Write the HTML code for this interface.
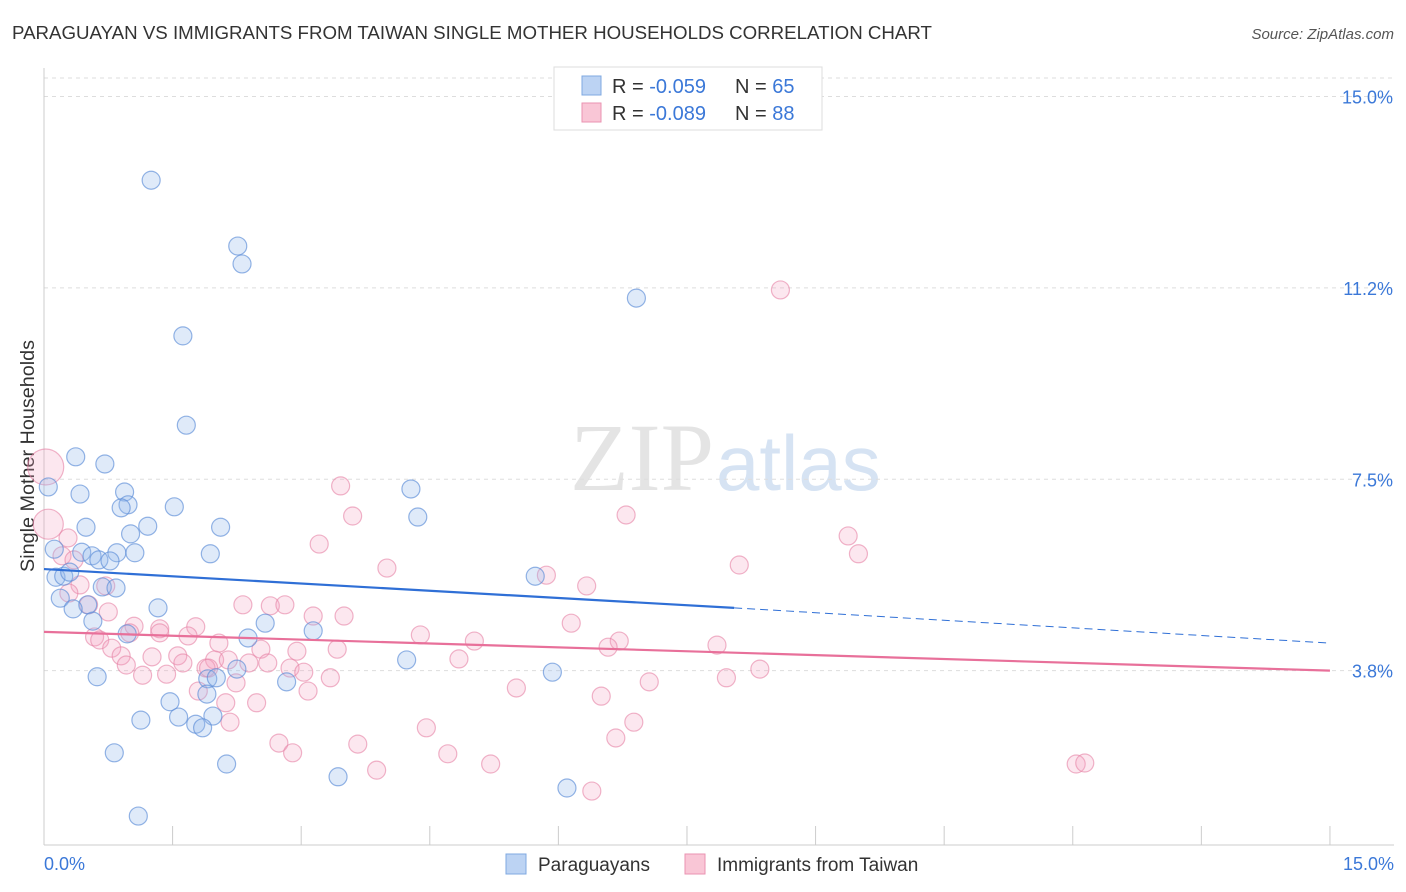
<!DOCTYPE html>
<html><head><meta charset="utf-8"><style>
body{margin:0;background:#fff;font-family:"Liberation Sans",sans-serif}
#wrap{position:relative;width:1406px;height:892px;overflow:hidden}
</style></head><body>
<div id="wrap">
<svg id="chart" width="1406" height="892" xmlns="http://www.w3.org/2000/svg">
<text x="12" y="39" font-size="18.7" fill="#333">PARAGUAYAN VS IMMIGRANTS FROM TAIWAN SINGLE MOTHER HOUSEHOLDS CORRELATION CHART</text>
<text x="1394" y="39" font-size="15" fill="#555" font-style="italic" text-anchor="end">Source: ZipAtlas.com</text>
<text x="714" y="490" font-size="96" fill="#e4e4e4" text-anchor="end" font-family="Liberation Serif">ZIP</text>
<text x="716" y="490" font-size="78" fill="#d6e3f3">atlas</text>
<text transform="translate(34,456) rotate(-90)" font-size="19.8" fill="#333" text-anchor="middle">Single Mother Households</text>
<g id="grid"></g><g id="ticks"></g><g id="pts"></g><g id="trend"></g>
<g>
<rect x="554" y="67" width="268" height="63" fill="#fff" stroke="#ddd"/>
<rect x="582" y="76" width="19" height="19" fill="#bcd3f3" stroke="#7fa8e0"/>
<rect x="582" y="103" width="19" height="19" fill="#f9c6d6" stroke="#ea93b1"/>
<text x="612" y="93" font-size="20" fill="#333">R = <tspan fill="#3b78d8">-0.059</tspan></text>
<text x="735" y="93" font-size="20" fill="#333">N = <tspan fill="#3b78d8">65</tspan></text>
<text x="612" y="120" font-size="20" fill="#333">R = <tspan fill="#3b78d8">-0.089</tspan></text>
<text x="735" y="120" font-size="20" fill="#333">N = <tspan fill="#3b78d8">88</tspan></text>
</g>
<g>
<rect x="506" y="854" width="20" height="20" fill="#bcd3f3" stroke="#7fa8e0"/>
<text x="538" y="871" font-size="19" fill="#333">Paraguayans</text>
<rect x="685" y="854" width="20" height="20" fill="#f9c6d6" stroke="#ea93b1"/>
<text x="717" y="871" font-size="19" fill="#333">Immigrants from Taiwan</text>
</g>
</svg></div>
<script>
const yTicks=[15,11.25,7.5,3.75];
const yTickLabels=["15.0%","11.2%","7.5%","3.8%"];
const xTickLabels=["0.0%","15.0%"];
const blueX=[1.25,2.26,2.31,1.62,6.91,1.66,0.37,0.71,0.05,0.42,0.94,0.98,0.90,1.52,4.28,4.36,0.49,1.21,2.06,1.01,0.12,0.44,0.56,0.85,1.06,1.94,0.64,0.77,0.14,0.23,0.30,5.73,0.19,0.68,0.84,0.51,0.34,1.33,0.57,2.58,0.97,2.38,3.14,4.23,2.25,5.93,0.62,1.91,2.01,2.83,1.47,1.90,1.13,1.57,1.97,1.77,1.85,0.82,2.13,3.43,6.10,1.10];
const blueY=[13.36,12.07,11.72,10.31,11.05,8.56,7.94,7.80,7.35,7.21,7.25,7.00,6.94,6.96,7.31,6.76,6.56,6.58,6.56,6.43,6.13,6.07,6.00,6.06,6.06,6.04,5.92,5.90,5.58,5.60,5.68,5.60,5.17,5.39,5.37,5.04,4.96,4.98,4.72,4.68,4.47,4.39,4.53,3.96,3.78,3.72,3.63,3.59,3.61,3.53,3.14,3.29,2.78,2.84,2.86,2.70,2.63,2.14,1.92,1.67,1.45,0.90];
const pinkX=[8.59,0.02,0.05,3.46,3.60,6.79,3.21,9.38,9.50,8.11,4.00,5.86,6.33,0.28,0.21,0.35,0.42,0.29,0.72,0.52,0.75,2.32,2.64,2.81,3.14,3.50,1.05,1.35,1.77,0.59,1.00,0.65,1.35,1.68,2.04,4.39,5.02,6.15,6.71,6.58,7.85,0.79,0.90,1.26,1.56,0.96,1.62,1.99,1.89,2.53,2.95,3.42,4.84,1.15,1.43,2.39,2.61,2.87,3.03,3.34,1.80,2.12,2.24,2.48,3.08,5.51,7.06,7.96,8.35,6.50,6.88,2.17,4.46,2.74,2.90,3.66,4.71,6.67,3.88,5.21,12.04,12.14,6.39,1.92,2.15];
const pinkY=[11.21,7.74,6.62,7.37,6.78,6.80,6.23,6.39,6.04,5.82,5.76,5.62,5.41,6.35,6.00,5.92,5.43,5.27,5.41,5.04,4.90,5.04,5.02,5.04,4.82,4.82,4.62,4.57,4.61,4.41,4.49,4.35,4.49,4.43,4.29,4.45,4.33,4.68,4.33,4.21,4.25,4.19,4.04,4.02,4.04,3.86,3.90,3.96,3.80,4.17,4.13,4.17,3.98,3.66,3.68,3.90,3.90,3.80,3.72,3.61,3.35,3.12,3.51,3.12,3.35,3.41,3.53,3.61,3.78,3.25,2.74,2.74,2.63,2.33,2.14,2.31,2.12,2.43,1.80,1.92,1.92,1.94,1.39,3.80,3.96];
const pinkR=[9,18,15];
const blueTrend=[5.74,4.98,4.29]; const blueTrendX=[0,8.05,15];
const pinkTrend=[4.51,3.75]; const pinkTrendX=[0,15];
const NS="http://www.w3.org/2000/svg";
const X=v=>44+v*85.73, Y=v=>862-v*51.03;
function mk(t,a,p){const e=document.createElementNS(NS,t);for(const k in a)e.setAttribute(k,a[k]);p.appendChild(e);return e;}
const grid=document.getElementById('grid'),ticks=document.getElementById('ticks'),pts=document.getElementById('pts'),tr=document.getElementById('trend');
mk('line',{x1:44,y1:78,x2:1394,y2:78,stroke:'#ddd','stroke-dasharray':'4,4'},grid);
yTicks.forEach((v,i)=>{
 const l=mk('line',{x1:44,y1:Y(v),x2:1394,y2:Y(v),stroke:'#ddd','stroke-dasharray':'4,4'},grid);
 
 
 const t=mk('text',{x:1393,y:Y(v)+7,'font-size':18,fill:'#3b78d8','text-anchor':'end'},ticks);
 t.textContent=yTickLabels[i];
 
 
});
mk('line',{x1:44,y1:68,x2:44,y2:845,stroke:'#ccc'},ticks);
mk('line',{x1:44,y1:845,x2:1394,y2:845,stroke:'#ccc'},ticks);
for(let i=0;i<=10;i++){const x=X(i*1.5);mk('line',{x1:x,y1:826,x2:x,y2:845,stroke:'#ccc'},ticks);}
[[0,'start',44],[15,'end',1394]].forEach((d,i)=>{const t=mk('text',{x:d[2],y:870,'font-size':18,fill:'#3b78d8','text-anchor':d[1]},ticks);t.textContent=xTickLabels[i];
 
 });
pinkX.forEach((v,i)=>{const c=mk('circle',{cx:X(v),cy:Y(pinkY[i]),r:pinkR[i]||9,fill:'rgba(244,160,190,0.25)',stroke:'rgba(230,130,165,0.6)','stroke-width':1.2},pts);
 
 });
blueX.forEach((v,i)=>{const c=mk('circle',{cx:X(v),cy:Y(blueY[i]),r:9,fill:'rgba(150,185,235,0.3)',stroke:'rgba(90,140,215,0.65)','stroke-width':1.2},pts);
 
 });
let l1=mk('line',{x1:X(blueTrendX[0]),y1:Y(blueTrend[0]),x2:X(blueTrendX[1]),y2:Y(blueTrend[1]),stroke:'#2f6fd6','stroke-width':2.2},tr);


let l2=mk('line',{x1:X(blueTrendX[1]),y1:Y(blueTrend[1]),x2:X(blueTrendX[2]),y2:Y(blueTrend[2]),stroke:'#2f6fd6','stroke-width':1,'stroke-dasharray':'8,5'},tr);


let l3=mk('line',{x1:X(pinkTrendX[0]),y1:Y(pinkTrend[0]),x2:X(pinkTrendX[1]),y2:Y(pinkTrend[1]),stroke:'#e8709a','stroke-width':2.2},tr);


</script>
</body></html>
